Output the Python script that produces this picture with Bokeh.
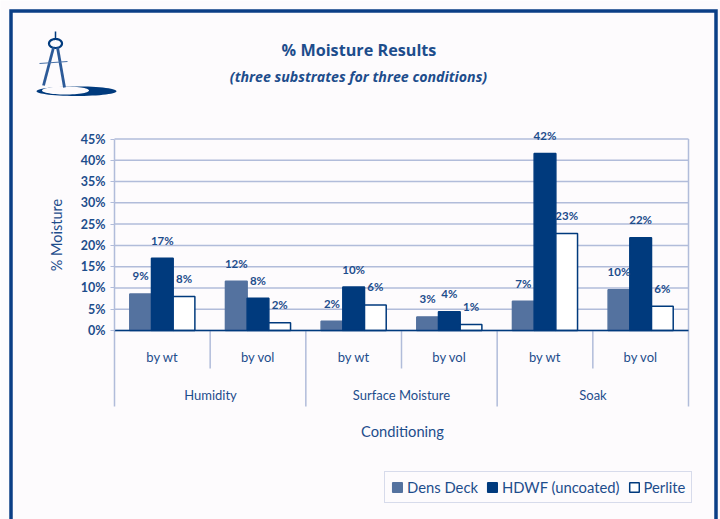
import numpy as np
from bokeh.core.properties import value
from bokeh.embed import file_html
from bokeh.resources import INLINE
from bokeh.plotting import figure
from bokeh.models import (ColumnDataSource, Range1d, Label, LabelSet, Legend, LegendItem,
                          FixedTicker)

# Moisture percentages, two measurement bases for each conditioning group
conditions = ["Humidity", "Surface Moisture", "Soak"]
bases = ["by wt", "by vol", "by wt", "by vol", "by wt", "by vol"]
dens_deck = [8.6, 11.6, 2.2, 3.2, 6.9, 9.6]
hdwf = [17.0, 7.6, 10.2, 4.4, 41.6, 21.8]
perlite = [8.0, 1.8, 6.0, 1.4, 22.8, 5.7]
series_names = ["Dens Deck", "HDWF (uncoated)", "Perlite"]
y_ticks = [0, 5, 10, 15, 20, 25, 30, 35, 40, 45]

NAVY = "#003a7d"
TEXT = "#1d4d8c"
GRID = "#b1bcda"
MID = "#54729f"
PAPER = "#fdfbfd"
FONT = "Lato"
HEAD_FONT = "Open Sans"

W, H = 720, 519
LEFT, RIGHT, TOP, BASE = 114, 688, 138.5, 330
PX_X = (RIGHT - LEFT) / 6
PX_Y = (BASE - TOP) / 45


def X(px):
    """Page pixel column to chart x."""
    return (np.asarray(px, dtype=float) - LEFT) / PX_X


def Y(py):
    """Page pixel row to chart y."""
    return (BASE - np.asarray(py, dtype=float)) / PX_Y


# The frame fills the page; both axes are pinned inside it at the chart origin
p = figure(width=W, height=H, output_backend="svg", toolbar_location=None,
           x_range=Range1d(float(X(0)), float(X(W))), y_range=Range1d(float(Y(H)), float(Y(0))),
           min_border=0)
p.background_fill_color = PAPER
p.border_fill_color = PAPER
p.outline_line_color = None
p.grid.visible = False

yax = p.yaxis[0]
yax.fixed_location = 0
yax.bounds = (0, 45)
yax.ticker = FixedTicker(ticks=y_ticks)
yax.major_label_overrides = {t: f"{t}%" for t in y_ticks}
yax.axis_line_color = GRID
yax.axis_line_width = 1.5
yax.major_tick_line_color = GRID
yax.major_tick_out = 4
yax.major_tick_in = 0
yax.minor_tick_line_color = None
yax.major_label_text_font = FONT
yax.major_label_text_font_size = "12.5px"
yax.major_label_text_font_style = "bold"
yax.major_label_text_color = TEXT
yax.major_label_standoff = 5
yax.axis_label = "% Moisture"
yax.axis_label_text_font = FONT
yax.axis_label_text_font_size = "14.5px"
yax.axis_label_text_font_style = "normal"
yax.axis_label_text_color = TEXT
yax.axis_label_standoff = 13

centers = [i + 0.5 for i in range(len(bases))]
xax = p.xaxis[0]
xax.fixed_location = 0
xax.bounds = (0, 6)
xax.ticker = FixedTicker(ticks=centers)
xax.major_label_overrides = {c: b for c, b in zip(centers, bases)}
xax.axis_line_color = NAVY
xax.axis_line_width = 1.5
xax.major_tick_line_color = None
xax.minor_tick_line_color = None
xax.major_label_text_font = FONT
xax.major_label_text_font_size = "13px"
xax.major_label_text_color = TEXT
xax.major_label_standoff = 12

# Horizontal rules plus the right-hand edge of the plot area
p.segment(x0=[0] * len(y_ticks), x1=[6] * len(y_ticks), y0=y_ticks, y1=y_ticks,
          line_color=GRID, line_width=1.5, level="underlay")
p.segment(x0=[6], x1=[6], y0=[0], y1=[45], line_color=GRID, line_width=1.5, level="underlay")

# Dividers of the two-level category axis
p.segment(x0=[1, 3, 5], x1=[1, 3, 5], y0=[0] * 3, y1=[float(Y(368))] * 3, line_color=GRID, line_width=1.5)
p.segment(x0=[0, 2, 4, 6], x1=[0, 2, 4, 6], y0=[0] * 4, y1=[float(Y(406))] * 4, line_color=GRID, line_width=1.5)

BAR = 0.2268
specs = [(dens_deck, -BAR, MID, MID), (hdwf, 0, NAVY, NAVY), (perlite, BAR, "#ffffff", NAVY)]
renderers = []
for vals, off, fill, line in specs:
    src = ColumnDataSource(data=dict(x=[c + off for c in centers], y=vals,
                                     t=[f"{round(v)}%" for v in vals]))
    renderers.append(p.vbar(x="x", top="y", width=BAR, source=src,
                            fill_color=fill, line_color=line, line_width=1.5))
    p.add_layout(LabelSet(x="x", y="y", text="t", source=src, y_offset=18,
                          text_align="center", text_baseline="middle",
                          text_font=value(FONT), text_font_size="11.5px", text_font_style="bold",
                          text_color=TEXT))


def text(px, py, s, size, style="normal", font=FONT):
    p.add_layout(Label(x=float(X(px)), y=float(Y(py)), text=s, text_font=font, text_font_size=size,
                       text_font_style=style, text_color=TEXT,
                       text_align="center", text_baseline="middle"))


def shape(xs, ys, **kw):
    p.patch(list(X(xs)), list(Y(ys)), **kw)


def stroke(xs, ys, color=NAVY, width=1.5):
    p.line(list(X(xs)), list(Y(ys)), line_color=color, line_width=width, line_join="miter")


# Page border, open along the bottom edge
stroke([10.5, 10.5, 715.5, 715.5], [H, 10.5, 10.5, H], "#0b3f86", 3.5)

text(358.5, 49, "% Moisture Results", "16.2px", "bold", HEAD_FONT)
text(358, 76, "(three substrates for three conditions)", "14.2px", "bold italic", HEAD_FONT)
text(402, 430, "Conditioning", "14.7px")
for name, x in zip(conditions, [210, 401, 592.5]):
    text(x, 394.5, name, "13px")

# Compass emblem standing on its base ellipse
t = np.linspace(0, 2 * np.pi, 60)
shape(76 + 40 * np.cos(t), 90.7 + 4.8 * np.sin(t), fill_color=NAVY, line_color=None)
shape(65 + 23.5 * np.cos(t), 90 + 4 * np.sin(t), fill_color=PAPER, line_color=None)
stroke(55 + 6.5 * np.cos(t), 43 + 4.5 * np.sin(t), NAVY, 2.2)
stroke([55, 55], [31, 39], NAVY, 1.5)
stroke([53, 43], [47, 85], "#2c5a98", 2.8)
stroke([57, 64], [47, 87], "#2c5a98", 2.8)
stroke([39, 67], [63, 61], "#4a72a8", 1.2)

legend = Legend(items=[LegendItem(label=n, renderers=[r]) for n, r in zip(series_names, renderers)],
                orientation="horizontal", location=(384, H - 503),
                label_text_font=FONT, label_text_font_size="14.8px", label_text_color=TEXT,
                glyph_width=12, glyph_height=12, label_standoff=4, spacing=8,
                padding=6, margin=0, border_line_color=GRID, border_line_width=1.5,
                background_fill_color=PAPER, background_fill_alpha=1)
p.add_layout(legend, "center")

open("out.html", "w").write(file_html(p, INLINE))
